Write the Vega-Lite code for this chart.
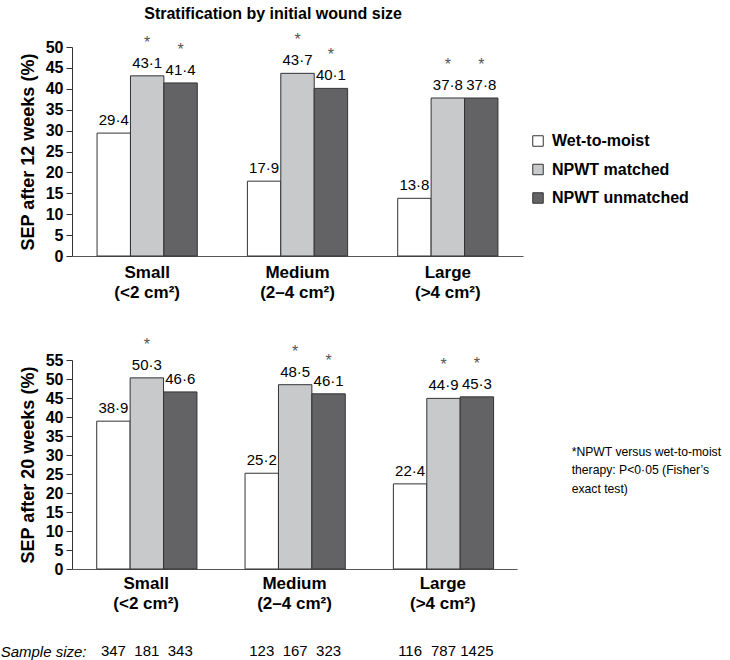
{
  "$schema": "https://vega.github.io/schema/vega-lite/v6.json",
  "padding": {"left": 0, "top": 6, "right": 0, "bottom": 5},
  "background": "white",
  "config": {
    "font": "Liberation Sans",
    "view": {"stroke": null},
    "locale": {"number": {"decimal": "·", "thousands": ",", "grouping": [3], "currency": ["", ""]}},
    "axis": {"labelColor": "#000", "titleColor": "#000", "domainColor": "#333", "tickColor": "#333", "grid": false}
  },
  "datasets": {
    "weeks12": [
      {"size": "Small (<2 cm²)", "therapy": "Wet-to-moist", "value": 29.4, "sig": false},
      {"size": "Small (<2 cm²)", "therapy": "NPWT matched", "value": 43.1, "sig": true},
      {"size": "Small (<2 cm²)", "therapy": "NPWT unmatched", "value": 41.4, "sig": true},
      {"size": "Medium (2–4 cm²)", "therapy": "Wet-to-moist", "value": 17.9, "sig": false},
      {"size": "Medium (2–4 cm²)", "therapy": "NPWT matched", "value": 43.7, "sig": true},
      {"size": "Medium (2–4 cm²)", "therapy": "NPWT unmatched", "value": 40.1, "sig": true},
      {"size": "Large (>4 cm²)", "therapy": "Wet-to-moist", "value": 13.8, "sig": false},
      {"size": "Large (>4 cm²)", "therapy": "NPWT matched", "value": 37.8, "sig": true},
      {"size": "Large (>4 cm²)", "therapy": "NPWT unmatched", "value": 37.8, "sig": true}
    ],
    "weeks20": [
      {"size": "Small (<2 cm²)", "therapy": "Wet-to-moist", "value": 38.9, "sig": false},
      {"size": "Small (<2 cm²)", "therapy": "NPWT matched", "value": 50.3, "sig": true},
      {"size": "Small (<2 cm²)", "therapy": "NPWT unmatched", "value": 46.6, "sig": false},
      {"size": "Medium (2–4 cm²)", "therapy": "Wet-to-moist", "value": 25.2, "sig": false},
      {"size": "Medium (2–4 cm²)", "therapy": "NPWT matched", "value": 48.5, "sig": true},
      {"size": "Medium (2–4 cm²)", "therapy": "NPWT unmatched", "value": 46.1, "sig": true},
      {"size": "Large (>4 cm²)", "therapy": "Wet-to-moist", "value": 22.4, "sig": false},
      {"size": "Large (>4 cm²)", "therapy": "NPWT matched", "value": 44.9, "sig": true},
      {"size": "Large (>4 cm²)", "therapy": "NPWT unmatched", "value": 45.3, "sig": true}
    ],
    "samples": [
      {"row": "Sample size:", "size": "Small (<2 cm²)", "therapy": "Wet-to-moist", "n": 347},
      {"row": "Sample size:", "size": "Small (<2 cm²)", "therapy": "NPWT matched", "n": 181},
      {"row": "Sample size:", "size": "Small (<2 cm²)", "therapy": "NPWT unmatched", "n": 343},
      {"row": "Sample size:", "size": "Medium (2–4 cm²)", "therapy": "Wet-to-moist", "n": 123},
      {"row": "Sample size:", "size": "Medium (2–4 cm²)", "therapy": "NPWT matched", "n": 167},
      {"row": "Sample size:", "size": "Medium (2–4 cm²)", "therapy": "NPWT unmatched", "n": 323},
      {"row": "Sample size:", "size": "Large (>4 cm²)", "therapy": "Wet-to-moist", "n": 116},
      {"row": "Sample size:", "size": "Large (>4 cm²)", "therapy": "NPWT matched", "n": 787},
      {"row": "Sample size:", "size": "Large (>4 cm²)", "therapy": "NPWT unmatched", "n": 1425}
    ]
  },
  "spacing": 36,
  "vconcat": [
    {
      "width": 451,
      "height": 209,
      "data": {"name": "weeks12"},
      "title": {"text": "Stratification by initial wound size", "anchor": "start", "dx": 125, "fontSize": 16, "fontWeight": "bold", "offset": 10, "color": "#000"},
      "encoding": {
        "x": {"field": "size", "type": "nominal", "sort": ["Small (<2 cm²)", "Medium (2–4 cm²)", "Large (>4 cm²)"],
              "scale": {"paddingInner": 0.3333, "paddingOuter": 0.1667},
              "axis": {"title": null, "ticks": false, "labelAngle": 0, "labelFontSize": 17, "labelFontWeight": "bold", "labelPadding": 8, "labelLineHeight": 20, "domainColor": "#555",
                       "labelExpr": "[slice(datum.value, 0, indexof(datum.value, ' ')), slice(datum.value, indexof(datum.value, ' ') + 1)]"}},
        "xOffset": {"field": "therapy", "type": "nominal", "sort": ["Wet-to-moist", "NPWT matched", "NPWT unmatched"], "scale": {"paddingInner": 0, "paddingOuter": 0}},
        "y": {"field": "value", "type": "quantitative", "scale": {"domain": [0, 50], "nice": false},
              "axis": {"values": [0, 5, 10, 15, 20, 25, 30, 35, 40, 45, 50], "title": "SEP after 12 weeks (%)", "titleFontSize": 18, "titleFontWeight": "bold", "labelFontSize": 16, "labelFontWeight": "bold", "tickSize": 6, "labelPadding": 3, "titlePadding": 8}}
      },
      "layer": [
        {
          "mark": {"type": "bar", "stroke": "#333", "strokeWidth": 1},
          "encoding": {
            "color": {"field": "therapy", "type": "nominal",
                      "scale": {"domain": ["Wet-to-moist", "NPWT matched", "NPWT unmatched"], "range": ["#ffffff", "#c8c9cb", "#636365"]},
                      "legend": {"title": null, "orient": "none", "legendX": 458, "legendY": 86, "symbolType": "square", "symbolSize": 110, "symbolStrokeColor": "#333", "symbolStrokeWidth": 1, "symbolOpacity": 1, "labelFontSize": 16, "labelFontWeight": "bold", "labelColor": "#000", "labelOffset": 6, "rowPadding": 12.5}}
          }
        },
        {
          "mark": {"type": "text", "baseline": "alphabetic", "dy": -8, "fontSize": 15, "color": "#000"},
          "encoding": {"text": {"field": "value", "type": "quantitative", "format": ".1f"}}
        },
        {
          "transform": [{"filter": "datum.sig"}],
          "mark": {"type": "text", "baseline": "alphabetic", "dy": -28, "fontSize": 16, "color": "#555", "text": "*"},
          "encoding": {}
        }
      ]
    },
    {
      "spacing": 30,
      "vconcat": [
        {
          "width": 445,
          "height": 209,
          "data": {"name": "weeks20"},
          "title": {"text": ["*NPWT versus wet-to-moist", "therapy: P<0·05 (Fisher’s", "exact test)"], "orient": "right", "angle": 0, "align": "left", "anchor": "middle", "baseline": "middle", "offset": -95, "dy": -13, "fontSize": 12.2, "fontWeight": "normal", "lineHeight": 18.5, "color": "#000"},
          "encoding": {
            "x": {"field": "size", "type": "nominal", "sort": ["Small (<2 cm²)", "Medium (2–4 cm²)", "Large (>4 cm²)"],
                  "scale": {"paddingInner": 0.3333, "paddingOuter": 0.1667},
                  "axis": {"title": null, "ticks": false, "labelAngle": 0, "labelFontSize": 17, "labelFontWeight": "bold", "labelPadding": 6, "labelLineHeight": 20, "domainColor": "#555",
                           "labelExpr": "[slice(datum.value, 0, indexof(datum.value, ' ')), slice(datum.value, indexof(datum.value, ' ') + 1)]"}},
            "xOffset": {"field": "therapy", "type": "nominal", "sort": ["Wet-to-moist", "NPWT matched", "NPWT unmatched"], "scale": {"paddingInner": 0, "paddingOuter": 0}},
            "y": {"field": "value", "type": "quantitative", "scale": {"domain": [0, 55], "nice": false},
                  "axis": {"values": [0, 5, 10, 15, 20, 25, 30, 35, 40, 45, 50, 55], "title": "SEP after 20 weeks (%)", "titleFontSize": 18, "titleFontWeight": "bold", "labelFontSize": 16, "labelFontWeight": "bold", "tickSize": 6, "labelPadding": 3, "titlePadding": 8}}
          },
          "layer": [
            {
              "mark": {"type": "bar", "stroke": "#333", "strokeWidth": 1},
              "encoding": {
                "color": {"field": "therapy", "type": "nominal",
                          "scale": {"domain": ["Wet-to-moist", "NPWT matched", "NPWT unmatched"], "range": ["#ffffff", "#c8c9cb", "#636365"]},
                          "legend": null}
              }
            },
            {
              "mark": {"type": "text", "baseline": "alphabetic", "dy": -8, "fontSize": 15, "color": "#000"},
              "encoding": {"text": {"field": "value", "type": "quantitative", "format": ".1f"}}
            },
            {
              "transform": [{"filter": "datum.sig"}],
              "mark": {"type": "text", "baseline": "alphabetic", "dy": -28, "fontSize": 16, "color": "#555", "text": "*"},
              "encoding": {}
            }
          ]
        },
        {
          "width": 445,
          "height": 20,
          "data": {"name": "samples"},
          "mark": {"type": "text", "fontSize": 15, "baseline": "middle", "color": "#000"},
          "encoding": {
            "x": {"field": "size", "type": "nominal", "sort": ["Small (<2 cm²)", "Medium (2–4 cm²)", "Large (>4 cm²)"],
                  "scale": {"paddingInner": 0.3333, "paddingOuter": 0.1667}, "axis": null},
            "xOffset": {"field": "therapy", "type": "nominal", "sort": ["Wet-to-moist", "NPWT matched", "NPWT unmatched"], "scale": {"paddingInner": 0, "paddingOuter": 0}},
            "y": {"field": "row", "type": "nominal", "axis": {"title": null, "domain": false, "ticks": false, "tickSize": 0, "labelPadding": -14, "labelFontSize": 15, "labelFontStyle": "italic", "labelColor": "#000"}},
            "text": {"field": "n", "type": "quantitative", "format": "d"}
          }
        }
      ]
    }
  ],
  "resolve": {"scale": {"color": "independent"}, "legend": {"color": "independent"}}
}
